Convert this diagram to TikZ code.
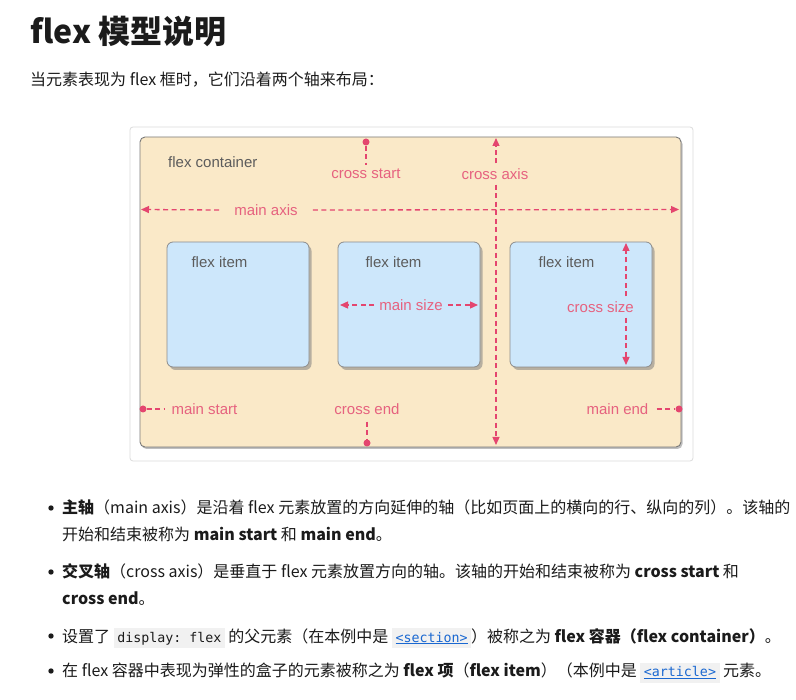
\documentclass[tikz,border=0pt]{standalone}
\usepackage{fontspec}
\setmainfont{Noto Sans CJK SC}
\setmonofont{DejaVu Sans Mono}
\newfontfamily\diagfont{Liberation Sans}
\usetikzlibrary{arrows.meta,shadows,calc}
\definecolor{ink}{HTML}{1B1B1B}
\definecolor{beige}{HTML}{FAE9C8}
\definecolor{itemblue}{HTML}{CDE7FB}
\definecolor{framegray}{HTML}{DCDCDC}
\definecolor{boxborder}{HTML}{7A7A7A}
\definecolor{itemborder}{HTML}{8C8C8C}
\definecolor{labelgray}{HTML}{5C5C5C}
\definecolor{pinkline}{HTML}{E4466F}
\definecolor{pinktext}{HTML}{E6627F}
\definecolor{codebg}{HTML}{F1F1F1}
\definecolor{linkblue}{HTML}{1A68D1}
\newcommand\codebox[1]{{\setlength\fboxsep{3.5pt}\colorbox{codebg}{\fontsize{13.3}{16}\selectfont\ttfamily #1}}}
\newcommand\codelink[1]{{\setlength\fboxsep{3.5pt}\colorbox{codebg}{\fontsize{13.3}{16}\selectfont\ttfamily\color{linkblue}\underline{#1}}}}
\tikzset{
  container/.style={draw=boxborder, fill=beige, rounded corners=5pt, line width=0.9pt, inner sep=0,
    drop shadow={shadow xshift=1.5pt, shadow yshift=-2pt, opacity=0.5}},
  item/.style={draw=itemborder, fill=itemblue, rounded corners=6pt, line width=0.8pt, inner sep=0,
    minimum width=142pt, minimum height=125pt,
    drop shadow={shadow xshift=2.5pt, shadow yshift=-3pt, opacity=0.55}},
  glabel/.style={font=\diagfont\fontsize{15}{18}\selectfont, text=labelgray, inner sep=0},
  plabel/.style={font=\diagfont\fontsize{15}{18}\selectfont, text=pinktext, inner sep=2pt},
  axisline/.style={draw=pinkline, line width=1.3pt, dash pattern=on 5pt off 3.5pt},
  tipend/.style={-{Triangle[length=8pt,width=7pt]}},
  pdot/.style={circle, fill=pinkline, inner sep=0, minimum size=7pt},
  bodytext/.style={anchor=base west, inner sep=0, font=\fontsize{16}{20}\selectfont, text=ink},
  bulletdot/.style={circle, fill=ink, inner sep=0, minimum size=5.4pt},
}
\begin{document}
\begin{tikzpicture}[x=1pt,y=-1pt]
\useasboundingbox (0,0) rectangle (796,700);
\fill[white] (0,0) rectangle (796,700);

% title and intro
\node[anchor=base west, inner sep=0, font=\fontsize{32}{38}\selectfont\bfseries, text=ink] (title) at (30,44) {flex 模型说明};
\node[bodytext] (intro) at (30,86) {当元素表现为 flex 框时，它们沿着两个轴来布局：};

% diagram frame and container
\node[draw=framegray, rounded corners=3pt, line width=0.8pt, inner sep=0, minimum width=563pt, minimum height=334pt] (frame) at (411.5,294) {};
\node[container, minimum width=541pt, minimum height=310pt] (box) at (410.5,292) {};

% items
\node[item] (item1) at (238,304.5) {};
\node[item] (item2) at (409,304.5) {};
\node[item] (item3) at (581,304.5) {};

% gray labels
\node[glabel, anchor=west] (fc) at (168,162) {flex container};
\node[glabel] (fi1) at (219.5,262) {flex item};
\node[glabel] (fi2) at (393.5,262) {flex item};
\node[glabel] (fi3) at (566.5,262) {flex item};

% main axis
\coordinate (maL) at (141,209.5);
\coordinate (maR) at (679,209.5);
\node[plabel, inner xsep=15pt] (ma) at (266,210) {main axis};
\draw[axisline, tipend] (ma.west) -- (maL);
\draw[axisline, tipend] (ma.east) -- (maR);

% cross axis
\coordinate (caT) at (496,138);
\coordinate (caB) at (496,445);
\node[plabel, inner ysep=5pt] (ca) at (495,174) {cross axis};
\draw[axisline, tipend] (ca.north -| caT) -- (caT);
\draw[axisline, tipend] (ca.south -| caB) -- (caB);

% cross start
\node[pdot] (csd) at (366,142) {};
\node[plabel, inner ysep=4pt] (cs) at (366,174) {cross start};
\draw[axisline] (csd) -- (cs.north);

% cross end
\node[plabel, inner ysep=7pt] (ce) at (367,409) {cross end};
\node[pdot] (ced) at (367,443) {};
\draw[axisline] (ce.south) -- (ced);

% main start
\node[pdot] (msd) at (143,409) {};
\node[plabel, inner xsep=6pt] (mst) at (204.5,409) {main start};
\draw[axisline] (msd) -- (mst.west);

% main end
\node[plabel, inner xsep=8pt] (me) at (617.5,409) {main end};
\node[pdot] (med) at (679,409) {};
\draw[axisline] (me.east) -- (med);

% main size
\coordinate (szL) at (340,305);
\coordinate (szR) at (478,305);
\node[plabel, inner xsep=5pt] (msz) at (411,305) {main size};
\draw[axisline, tipend] (msz.west) -- (szL);
\draw[axisline, tipend] (msz.east) -- (szR);

% cross size
\coordinate (czT) at (626,243);
\coordinate (czB) at (626,365);
\node[plabel, inner ysep=5pt] (csz) at (600.5,307) {cross size};
\draw[axisline, tipend] (csz.north -| czT) -- (czT);
\draw[axisline, tipend] (csz.south -| czB) -- (czB);

% bullet list
\node[bulletdot] (b1) at (51,508) {};
\node[bodytext] (l1a) at (62,514) {{\bfseries 主轴}（main axis）是沿着 flex 元素放置的方向延伸的轴（比如页面上的横向的行、纵向的列）。该轴的};
\node[bodytext] (l1b) at (62,541) {开始和结束被称为 {\bfseries main start} 和 {\bfseries main end}。};

\node[bulletdot] (b2) at (51,572) {};
\node[bodytext] (l2a) at (62,578) {{\bfseries 交叉轴}（cross axis）是垂直于 flex 元素放置方向的轴。该轴的开始和结束被称为 {\bfseries cross start} 和};
\node[bodytext] (l2b) at (62,605) {{\bfseries cross end}。};

\node[bulletdot] (b3) at (51,636) {};
\node[bodytext] (l3) at (62,642) {设置了 \codebox{display: flex} 的父元素（在本例中是 \codelink{<section>}）被称之为 {\bfseries flex 容器（flex container）}。};

\node[bulletdot] (b4) at (51,671) {};
\node[bodytext] (l4) at (62,677) {在 flex 容器中表现为弹性的盒子的元素被称之为 {\bfseries flex 项}（{\bfseries flex item}）（本例中是 \codelink{<article>} 元素。};
\end{tikzpicture}
\end{document}
